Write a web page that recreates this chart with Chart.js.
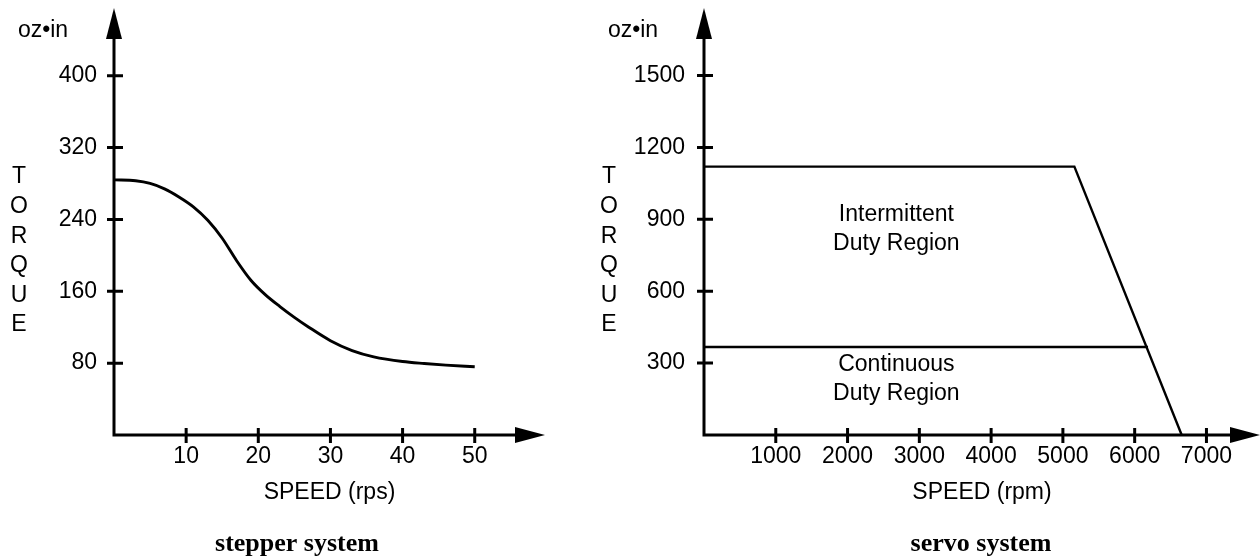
<!DOCTYPE html>
<html>
<head>
<meta charset="utf-8">
<script src="https://cdn.jsdelivr.net/npm/chart.js@4.4.1/dist/chart.umd.min.js"></script>
<style>
  html, body { margin: 0; padding: 0; background: #fff; }
  #wrap { position: relative; width: 1260px; height: 556px; overflow: hidden; }
  .box { position: absolute; top: 0; height: 556px; }
</style>
</head>
<body>
<div id="wrap">
  <div class="box" style="left:0;width:600px"><canvas id="stepper" width="600" height="556"></canvas></div>
  <div class="box" style="left:600px;width:660px"><canvas id="servo" width="660" height="556"></canvas></div>
</div>
<script>
// stepper torque curve, oz-in against rps
const stepperSpeed = [0, 3, 5, 7, 9, 11, 13, 15, 17, 19, 21, 23, 25, 27, 30, 33, 36, 40, 43, 46, 50];
const stepperTorque = [284, 283, 280, 274, 265, 254, 239, 219, 194, 172, 156, 143, 131, 120, 105, 94, 87, 81.8, 79.6, 77.8, 76];
const stepperXTicks = [10, 20, 30, 40, 50];
const stepperYTicks = [80, 160, 240, 320, 400];

// servo duty envelopes, oz-in against rpm
const intermittentSpeed = [0, 5160, 6655];
const intermittentTorque = [1120, 1120, 0];
const continuousSpeed = [0, 6186];
const continuousTorque = [367, 367];
const servoXTicks = [1000, 2000, 3000, 4000, 5000, 6000, 7000];
const servoYTicks = [300, 600, 900, 1200, 1500];

Chart.defaults.font.family = '"Liberation Sans", Arial, Helvetica, sans-serif';
Chart.defaults.font.size = 23;
Chart.defaults.color = '#000';

const pts = (xs, ys) => xs.map((v, i) => ({ x: v, y: ys[i] }));

// axes with arrows, crossing tick marks and the loose labels
const sketch = {
  id: 'sketch',
  afterDraw(chart, args, o) {
    const { ctx, chartArea: a, scales: { x, y } } = chart;
    const x0 = x.getPixelForValue(0), y0 = y.getPixelForValue(0);
    ctx.save();
    ctx.strokeStyle = '#000';
    ctx.fillStyle = '#000';
    ctx.lineWidth = 3;
    ctx.lineJoin = 'miter';
    ctx.beginPath();
    ctx.moveTo(x0, a.top + 30);
    ctx.lineTo(x0, y0);
    ctx.lineTo(a.right - 28, y0);
    ctx.stroke();

    ctx.beginPath();
    ctx.moveTo(x0, a.top);
    ctx.lineTo(x0 - 8, a.top + 31);
    ctx.lineTo(x0 + 8, a.top + 31);
    ctx.closePath();
    ctx.fill();
    ctx.beginPath();
    ctx.moveTo(a.right, y0);
    ctx.lineTo(a.right - 30, y0 - 8);
    ctx.lineTo(a.right - 30, y0 + 8);
    ctx.closePath();
    ctx.fill();

    ctx.beginPath();
    x.ticks.forEach(t => {
      const px = x.getPixelForValue(t.value);
      ctx.moveTo(px, y0 - 7);
      ctx.lineTo(px, y0 + 8);
    });
    y.ticks.forEach(t => {
      const py = y.getPixelForValue(t.value);
      ctx.moveTo(x0 - 7, py);
      ctx.lineTo(x0 + 9, py);
    });
    ctx.stroke();

    ctx.font = '23px "Liberation Sans", Arial, sans-serif';
    ctx.textAlign = 'center';
    ctx.textBaseline = 'alphabetic';
    ctx.fillText('oz\u2022in', x0 - 71, 37);
    ctx.textBaseline = 'middle';
    'TORQUE'.split('').forEach((c, i) => ctx.fillText(c, x0 - 95, 177 + i * 29.6));

    (o.regions || []).forEach(r => {
      const cx = x.getPixelForValue(r.speed), cy = y.getPixelForValue(r.torque);
      r.lines.forEach((t, i) => ctx.fillText(t, cx, cy + (i - (r.lines.length - 1) / 2) * 28.5));
    });

    ctx.font = 'bold 26px "Liberation Serif", "Times New Roman", serif';
    ctx.textBaseline = 'alphabetic';
    ctx.fillText(o.caption, x0 + o.captionDx, 551);
    ctx.restore();
  }
};

function axes(xMax, yMax, xTicks, yTicks, yWidth, yPad, title) {
  return {
    x: {
      type: 'linear', min: 0, max: xMax,
      afterBuildTicks: s => { s.ticks = xTicks.map(v => ({ value: v })); },
      afterFit: s => { s.height = 556 - 435; s.paddingLeft = 0; s.paddingRight = 0; },
      grid: { display: false, drawTicks: false },
      border: { display: false },
      ticks: { padding: 8, autoSkip: false, maxRotation: 0, callback: v => String(v) },
      title: { display: true, text: title, padding: { top: 0, bottom: 50 } }
    },
    y: {
      type: 'linear', min: 0, max: yMax,
      afterBuildTicks: s => { s.ticks = yTicks.map(v => ({ value: v })); },
      afterFit: s => { s.width = yWidth; s.paddingTop = 0; s.paddingBottom = 0; },
      grid: { display: false, drawTicks: false },
      border: { display: false },
      ticks: { padding: yPad, autoSkip: false, callback: v => String(v) }
    }
  };
}

new Chart(document.getElementById('stepper'), {
  type: 'line',
  data: {
    datasets: [{
      data: pts(stepperSpeed, stepperTorque),
      borderColor: '#000', borderWidth: 2.9, pointRadius: 0,
      cubicInterpolationMode: 'monotone', fill: false
    }]
  },
  options: {
    responsive: false, animation: false,
    layout: { padding: { top: 8, right: 55, left: 0, bottom: 0 } },
    plugins: {
      legend: { display: false }, tooltip: { enabled: false },
      sketch: { caption: 'stepper system', captionDx: 183 }
    },
    scales: axes(59.74, 475.3, stepperXTicks, stepperYTicks, 114, 17, 'SPEED (rps)')
  },
  plugins: [sketch]
});

new Chart(document.getElementById('servo'), {
  type: 'line',
  data: {
    datasets: [
      { data: pts(intermittentSpeed, intermittentTorque), borderColor: '#000', borderWidth: 2.4, pointRadius: 0, tension: 0, fill: false },
      { data: pts(continuousSpeed, continuousTorque), borderColor: '#000', borderWidth: 2.4, pointRadius: 0, tension: 0, fill: false }
    ]
  },
  options: {
    responsive: false, animation: false,
    layout: { padding: { top: 8, right: 0, left: 0, bottom: 0 } },
    plugins: {
      legend: { display: false }, tooltip: { enabled: false },
      sketch: {
        caption: 'servo system', captionDx: 277,
        regions: [
          { lines: ['Intermittent', 'Duty Region'], speed: 2680, torque: 859 },
          { lines: ['Continuous', 'Duty Region'], speed: 2680, torque: 234 }
        ]
      }
    },
    scales: axes(7746, 1782, servoXTicks, servoYTicks, 104, 19, 'SPEED (rpm)')
  },
  plugins: [sketch]
});
</script>
</body>
</html>
